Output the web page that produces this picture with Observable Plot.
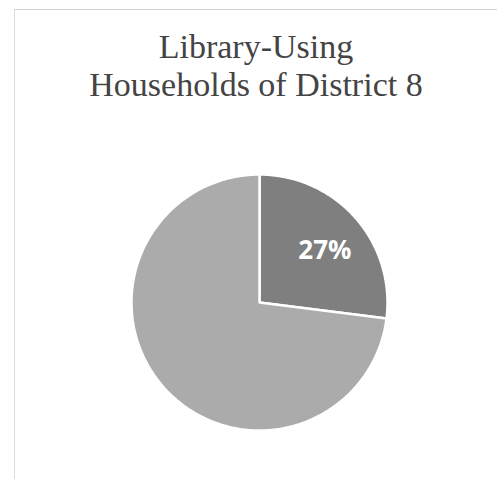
<!DOCTYPE html>
<html>
<head>
<meta charset="utf-8">
<script src="https://cdn.jsdelivr.net/npm/d3@7"></script>
<script src="https://cdn.jsdelivr.net/npm/@observablehq/plot@0.6"></script>
<style>
  html, body { margin: 0; padding: 0; background: #fff; width: 497px; height: 479px; overflow: hidden; }
  #frame { position: absolute; left: 14px; top: 9px; width: 500px; height: 480px;
           border-top: 1px solid #d4d4d4; border-left: 1px solid #dcdcdc; }
  #title { position: absolute; left: 0; width: 512px; top: 28px; text-align: center;
           font-family: "Liberation Serif", serif; font-size: 34px; line-height: 38px; color: #444; }
  #chart { position: absolute; left: 0; top: 152px; }
</style>
</head>
<body>
<div id="frame"></div>
<div id="title">Library-Using<br>Households of District 8</div>
<div id="chart"></div>
<script>
const categories = ["Library-using", "Other households"];
const values = [27, 73];
const labels = ["27%", ""];
const colors = ["#7f7f7f", "#ababab"];

const arcs = d3.pie().sort(null).startAngle(0).endAngle(2 * Math.PI)(values);

// polygon points for each slice (unit circle, y up, angle clockwise from top)
const slicePts = [];
arcs.forEach((a, i) => {
  const n = Math.max(2, Math.ceil((a.endAngle - a.startAngle) / (Math.PI / 180)));
  slicePts.push({slice: categories[i], x: 0, y: 0});
  for (let k = 0; k <= n; k++) {
    const t = a.startAngle + (a.endAngle - a.startAngle) * k / n;
    slicePts.push({slice: categories[i], x: Math.sin(t), y: Math.cos(t)});
  }
});
const labelPts = arcs.map((a, i) => {
  const m = (a.startAngle + a.endAngle) / 2;
  return {x: 0.66 * Math.sin(m), y: 0.66 * Math.cos(m), text: labels[i]};
});

const W = 497, H = 300, cx = 259, cy = 150, R = 128;
const plot = Plot.plot({
  width: W,
  height: H,
  marginLeft: cx - R,
  marginRight: W - cx - R,
  marginTop: cy - R,
  marginBottom: H - cy - R,
  x: {domain: [-1, 1], axis: null},
  y: {domain: [-1, 1], axis: null},
  color: {domain: categories, range: colors},
  style: {background: "transparent", overflow: "visible"},
  marks: [
    Plot.line(slicePts, {x: "x", y: "y", z: "slice", fill: "slice", stroke: "#fff",
      strokeWidth: 2.5, strokeLinejoin: "miter", curve: "linear-closed"}),
    Plot.text(labelPts, {x: "x", y: "y", text: "text", fill: "#fff", fontSize: 26,
      fontWeight: "bold", fontFamily: "'Open Sans', Lato, sans-serif", dy: 4, dx: 2})
  ]
});
document.getElementById("chart").appendChild(plot);
</script>
</body>
</html>
